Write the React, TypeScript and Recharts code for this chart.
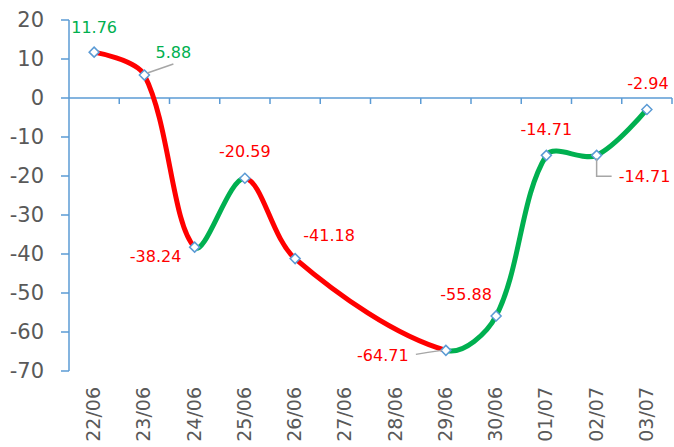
import React from "react";
import { LineChart, Line, XAxis, YAxis, ReferenceLine, LabelList } from "recharts";

const days = ["22/06", "23/06", "24/06", "25/06", "26/06", "27/06", "28/06", "29/06", "30/06", "01/07", "02/07", "03/07"];
const changes: (number | null)[] = [11.76, 5.88, -38.24, -20.59, -41.18, null, null, -64.71, -55.88, -14.71, -14.71, -2.94];
const yTicks = [20, 10, 0, -10, -20, -30, -40, -50, -60, -70];

const data = days.map((day, i) => ({ day, value: changes[i] }));

const BLUE = "#5B9BD5";
const RED = "#FF0000";
const GREEN = "#00B050";
const GREY = "#595959";

// label placement per point: offset of text centre/baseline from the marker, optional leader line
const labelSpots: Record<number, { dx: number; dy: number; leader?: number[][] }> = {
  0: { dx: 0, dy: -19 },
  1: { dx: 29, dy: -17, leader: [[3, -2], [29, -11]] },
  2: { dx: -39, dy: 15 },
  3: { dx: 0, dy: -21 },
  4: { dx: 34, dy: -18 },
  7: { dx: -63, dy: 11, leader: [[-30, 4], [-18, 2], [-4, 0]] },
  8: { dx: -30, dy: -16 },
  9: { dx: 0, dy: -20 },
  10: { dx: 48, dy: 27, leader: [[0, 3], [0, 21], [15, 21]] },
  11: { dx: 1, dy: -20 },
};

// Excel-like smoothing: bezier handles along the neighbour chord,
// their length split by the lengths of the adjacent segments
class SmoothCurve {
  _context: any;
  _pts: number[][] = [];
  constructor(context: any) {
    this._context = context;
  }
  areaStart() {}
  areaEnd() {}
  lineStart() {
    this._pts = [];
  }
  point(x: number, y: number) {
    this._pts.push([+x, +y]);
  }
  lineEnd() {
    const p = this._pts;
    const ctx = this._context;
    if (!p.length) return;
    ctx.moveTo(p[0][0], p[0][1]);
    if (p.length === 1) return;
    if (p.length === 2) {
      ctx.lineTo(p[1][0], p[1][1]);
      return;
    }
    const dist = (a: number[], b: number[]) => Math.hypot(b[0] - a[0], b[1] - a[1]);
    const hin: number[][] = [];
    const hout: number[][] = [];
    for (let i = 0; i < p.length; i++) {
      if (i === 0 || i === p.length - 1) {
        hin[i] = p[i];
        hout[i] = p[i];
        continue;
      }
      const tx = p[i + 1][0] - p[i - 1][0];
      const ty = p[i + 1][1] - p[i - 1][1];
      const dp = dist(p[i - 1], p[i]);
      const dn = dist(p[i], p[i + 1]);
      const s = dp + dn || 1;
      hin[i] = [p[i][0] - (tx * dp) / (3 * s), p[i][1] - (ty * dp) / (3 * s)];
      hout[i] = [p[i][0] + (tx * dn) / (3 * s), p[i][1] + (ty * dn) / (3 * s)];
    }
    for (let i = 0; i < p.length - 1; i++) {
      ctx.bezierCurveTo(hout[i][0], hout[i][1], hin[i + 1][0], hin[i + 1][1], p[i + 1][0], p[i + 1][1]);
    }
  }
}
const smooth = (context: any) => new SmoothCurve(context);

// red where the value falls, green where it rises or holds
function trendStops() {
  const n = changes.length - 1;
  const stops: { offset: number; color: string }[] = [];
  for (let k = 0; k < n; k++) {
    let a = k;
    while (changes[a] == null) a--;
    let b = k + 1;
    while (changes[b] == null) b++;
    const color = (changes[b] as number) < (changes[a] as number) ? RED : GREEN;
    stops.push({ offset: k / n, color }, { offset: (k + 1) / n, color });
  }
  return stops;
}

const Diamond = (props: any) => {
  const { cx, cy, index } = props;
  if (cy == null || cx == null) return <g key={`d${index}`} />;
  const r = 5;
  return (
    <polygon
      key={`d${index}`}
      points={`${cx},${cy - r} ${cx + r},${cy} ${cx},${cy + r} ${cx - r},${cy}`}
      fill="#fff"
      stroke={BLUE}
      strokeWidth={1.5}
    />
  );
};

const ValueLabel = (props: any) => {
  const { x, y, value, index } = props;
  if (value == null) return null;
  const spot = labelSpots[index] ?? { dx: 0, dy: -18 };
  return (
    <g>
      {spot.leader && (
        <polyline
          points={spot.leader.map(([px, py]) => `${x + px},${y + py}`).join(" ")}
          fill="none"
          stroke="#A6A6A6"
          strokeWidth={1.5}
        />
      )}
      <text
        x={x + spot.dx}
        y={y + spot.dy}
        textAnchor="middle"
        fill={value >= 0 ? GREEN : RED}
        fontSize={16}
        fontFamily="DejaVu Sans"
      >
        {value.toFixed(2)}
      </text>
    </g>
  );
};

const DayTick = (props: any) => {
  const { x, y, payload } = props;
  return (
    <g transform={`translate(${x},${y})`}>
      <text
        x={-16}
        y={6}
        transform="rotate(-90)"
        textAnchor="end"
        fill={GREY}
        fontSize={19}
        fontFamily="DejaVu Sans"
      >
        {payload.value}
      </text>
    </g>
  );
};

const ZeroAxis = (props: any) => {
  const { x1, y1, x2 } = props;
  const step = (x2 - x1) / days.length;
  return (
    <g>
      <line x1={x1} y1={y1} x2={x2} y2={y1} stroke={BLUE} strokeWidth={1.5} />
      {days.map((d, i) => (
        <line key={d} x1={x1 + step * (i + 1)} x2={x1 + step * (i + 1)} y1={y1} y2={y1 + 6} stroke={BLUE} strokeWidth={1.5} />
      ))}
    </g>
  );
};

export default function App() {
  const stops = trendStops();
  return (
    <div style={{ position: "absolute", left: 0, top: 0, background: "#fff" }}>
      <LineChart width={674} height={447} data={data} margin={{ top: 20, right: 2, bottom: 0, left: 0 }}>
        <defs>
          <linearGradient id="trend" x1="0" y1="0" x2="1" y2="0">
            {stops.map((s, i) => (
              <stop key={i} offset={s.offset} stopColor={s.color} />
            ))}
          </linearGradient>
        </defs>
        <XAxis
          dataKey="day"
          scale="band"
          interval={0}
          axisLine={false}
          tickLine={false}
          tickSize={0}
          tickMargin={0}
          height={76}
          tick={<DayTick />}
        />
        <YAxis
          domain={[-70, 20]}
          ticks={yTicks}
          interval={0}
          width={69}
          axisLine={{ stroke: BLUE, strokeWidth: 1.5 }}
          tickLine={{ stroke: BLUE, strokeWidth: 1.5 }}
          tickSize={8}
          tickMargin={17}
          tick={{ fill: GREY, fontSize: 21, fontFamily: "DejaVu Sans" }}
        />
        <ReferenceLine y={0} shape={<ZeroAxis />} />
        <Line
          dataKey="value"
          type={smooth as any}
          connectNulls
          stroke="url(#trend)"
          strokeWidth={5}
          dot={Diamond}
          activeDot={false}
          isAnimationActive={false}
        >
          <LabelList dataKey="value" content={ValueLabel} />
        </Line>
      </LineChart>
    </div>
  );
}
